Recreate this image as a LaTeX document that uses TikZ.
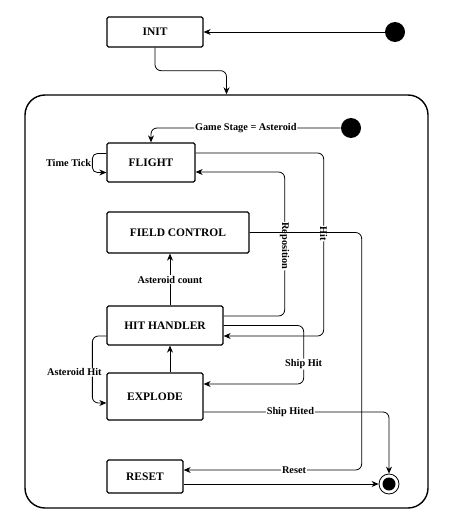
\documentclass[tikz,border=0pt]{standalone}
\usepackage{fontspec}
\setmainfont{Liberation Serif}
\usetikzlibrary{positioning,arrows.meta}

\begin{document}
\begin{tikzpicture}[x=1pt,y=-1pt,>={Stealth[length=7pt,width=6pt]},
  stbox/.style={draw,line width=1.3pt,rounded corners=1.5pt,inner sep=0pt,
    font=\bfseries\fontsize{11.5}{13}\selectfont},
  dot/.style={circle,fill=black,inner sep=0pt,minimum size=20pt},
  lbl/.style={fill=white,inner sep=0.8pt,font=\bfseries\fontsize{10.3}{12}\selectfont},
  every path/.style={line width=0.8pt}]
  \useasboundingbox (0,0) rectangle (450,519);
  \node[draw,line width=1.4pt,rounded corners=20pt,minimum width=403pt,minimum height=413pt] (stage) at (226.5,301.5) {};
  \node[stbox,minimum width=96pt,minimum height=30pt] (init) at (155,32) {INIT};
  \node[dot] (start) at (395,32) {};
  \node[dot] (inner) at (351,128) {};
  \node[stbox,minimum width=88pt,minimum height=39pt] (flight) at (151,162.5) {FLIGHT};
  \node[stbox,minimum width=142pt,minimum height=41pt] (field) at (178,232.5) {FIELD CONTROL};
  \node[stbox,minimum width=116pt,minimum height=39pt] (hit) at (165,325.5) {HIT HANDLER};
  \node[stbox,minimum width=96pt,minimum height=47pt] (explode) at (155,396.5) {EXPLODE};
  \node[stbox,minimum width=76pt,minimum height=33pt] (reset) at (145,476.5) {RESET};
  \node[draw,circle,line width=0.8pt,minimum size=20pt,inner sep=0pt,
    path picture={\fill (path picture bounding box.center) circle (6.5pt);}] (end) at (389,484) {};
  \draw[->] (start) -- (init);
  \draw[->,rounded corners=6pt] (init.south) -- ++(0,23) -| (stage.north);
  \draw[->,rounded corners=6pt] (inner) -| node[lbl,pos=0.25] {Game Stage = Asteroid} (flight.north);
  \draw[->,rounded corners=5pt] ([yshift=9pt]flight.west) -- ++(-14,0)
    |- node[lbl,left,pos=0.25,fill=none] {Time Tick} ([yshift=-10pt]flight.west);
  \draw[->,rounded corners=6pt] ([yshift=9.5pt]flight.east) -- ++(128,0)
    |- node[lbl,rotate=-90,pos=0.22] {Hit} ([yshift=-10.5pt]hit.east);
  \draw[->,rounded corners=6pt] ([yshift=9.5pt]hit.east) -- ++(61,0)
    |- node[lbl,rotate=-90,pos=0.243] {Reposition} ([yshift=-9.5pt]flight.east);
  \draw[->,rounded corners=6pt] (field.east) -- ++(112,0)
    |- node[lbl,pos=0.69] {Reset} ([yshift=6.5pt]reset.east);
  \draw[->] ([xshift=5pt]hit.north) -- node[lbl] {Asteroid count} ([xshift=5pt]hit.north |- field.south);
  \draw[->] ([xshift=15pt]explode.north) -- ([xshift=15pt]explode.north |- hit.south);
  \draw[->,rounded corners=6pt] (hit.east) -- ++(80,0)
    |- node[lbl,pos=0.33] {Ship Hit} ([yshift=12.5pt]explode.east);
  \draw[->,rounded corners=6pt] ([yshift=-10.5pt]hit.west) -- ++(-14,0)
    |- node[lbl,pos=0.27,xshift=-18pt] {Asteroid Hit} ([yshift=-6.5pt]explode.west);
  \draw[->,rounded corners=6pt] ([yshift=-15.5pt]explode.east) -| node[lbl,pos=0.234] {Ship Hited} (end.north);
  \draw[->] (reset.east |- end.west) -- (end.west);
\end{tikzpicture}
\end{document}
